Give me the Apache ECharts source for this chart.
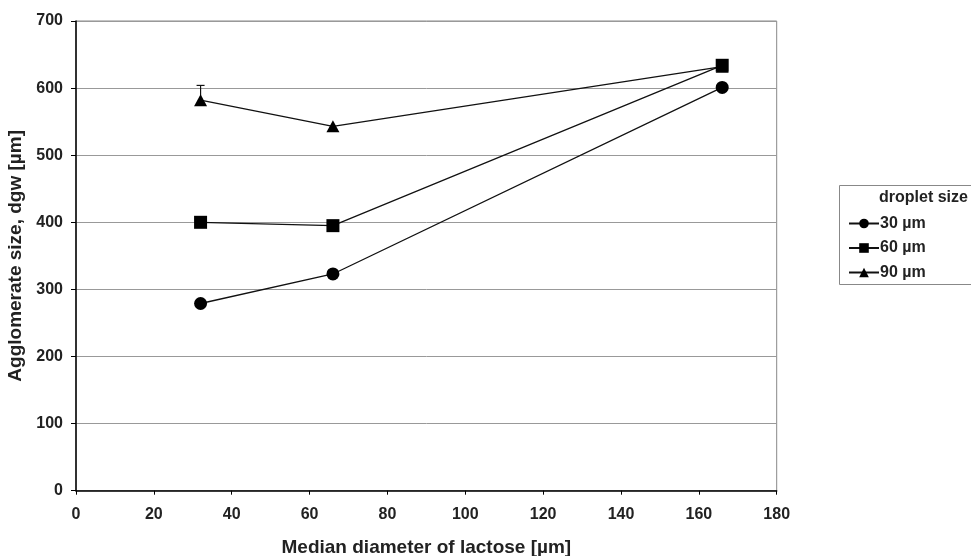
<!DOCTYPE html>
<html>
<head>
<meta charset="utf-8">
<script src="https://cdn.jsdelivr.net/npm/echarts@6/dist/echarts.min.js"></script>
<style>html,body{margin:0;padding:0;background:#fff}#c{width:971px;height:556px}</style>
</head>
<body>
<div id="c"></div>
<script>
const xValues = [32, 66, 166];
const s30 = [279, 323, 601];
const s60 = [400, 395, 634];
const s90 = [582, 543, 632];
const s90ErrPlus = [22, 0, 0];
const seriesNames = ['30 µm', '60 µm', '90 µm'];
const xTicks = [0, 20, 40, 60, 80, 100, 120, 140, 160, 180];
const yTicks = [0, 100, 200, 300, 400, 500, 600, 700];

const font = '"Liberation Sans", Arial, sans-serif';
const chart = echarts.init(document.getElementById('c'));
function pts(vals){ return xValues.map((x,i)=>[x, vals[i]]); }
function lineSeries(name, vals, symbol, size){
  return {
    name, type:'line', data: pts(vals), symbol, symbolSize: size,
    itemStyle:{color:'#000'}, lineStyle:{color:'#111', width:1.3},
    emphasis:{disabled:true}, z: 3
  };
}
chart.setOption({
  animation:false,
  backgroundColor:'#fff',
  grid:{left:76, top:21, width:700.7, height:469.7, show:true, borderColor:'#888', borderWidth:1,
    containLabel:false, outerBoundsMode:'none'},
  xAxis:{type:'value', min:xTicks[0], max:xTicks[xTicks.length-1], interval:20,
    axisLine:{lineStyle:{color:'#000', width:1.5}},
    axisTick:{show:true, length:4, lineStyle:{color:'#000'}},
    axisLabel:{color:'#222', fontFamily:font, fontWeight:'bold', fontSize:16, margin:16},
    splitLine:{show:false},
    name:'Median diameter of lactose [µm]', nameLocation:'middle', nameGap:48,
    nameTextStyle:{color:'#222', fontFamily:font, fontWeight:'bold', fontSize:19}},
  yAxis:{type:'value', min:yTicks[0], max:yTicks[yTicks.length-1], interval:100,
    axisLine:{show:true, lineStyle:{color:'#000', width:1.5}},
    axisTick:{show:true, length:5, lineStyle:{color:'#000'}},
    axisLabel:{color:'#222', fontFamily:font, fontWeight:'bold', fontSize:16, margin:13},
    splitLine:{show:true, lineStyle:{color:'#999', width:1}},
    name:'Agglomerate size, dgw [µm]', nameLocation:'middle', nameGap:45,
    nameTextStyle:{color:'#222', fontFamily:font, fontWeight:'bold', fontSize:19}},
  legend:{orient:'vertical', left:843, top:210.5, itemGap:8.5, itemWidth:30, itemHeight:12,
    data:seriesNames,
    textStyle:{color:'#222', fontFamily:font, fontWeight:'bold', fontSize:16, padding:[0,0,0,-4]}},
  graphic:[
    {type:'rect', left:837, top:183, shape:{width:200, height:99}, style:{fill:'none', stroke:'#888', lineWidth:1}, z:-1},
    {type:'text', left:879, top:190, style:{text:'droplet size', fill:'#222', font:'bold 16px "Liberation Sans", Arial, sans-serif'}}
  ],
  series:[
    lineSeries(seriesNames[0], s30, 'circle', 13),
    lineSeries(seriesNames[1], s60, 'rect', 13),
    lineSeries(seriesNames[2], s90, 'triangle', [13, 12]),
    {type:'custom', z:2, silent:true,
      data: xValues.map((x,i)=>[x, s90[i], s90[i]+s90ErrPlus[i]]).filter(d=>d[2]>d[1]),
      renderItem:function(params, api){
        const p0 = api.coord([api.value(0), api.value(1)]);
        const p1 = api.coord([api.value(0), api.value(2)]);
        const st = {stroke:'#111', lineWidth:1.2};
        return {type:'group', children:[
          {type:'line', shape:{x1:p0[0], y1:p0[1], x2:p1[0], y2:p1[1]}, style:st},
          {type:'line', shape:{x1:p1[0]-4, y1:p1[1], x2:p1[0]+4, y2:p1[1]}, style:st}
        ]};
      }}
  ]
});
</script>
</body>
</html>
